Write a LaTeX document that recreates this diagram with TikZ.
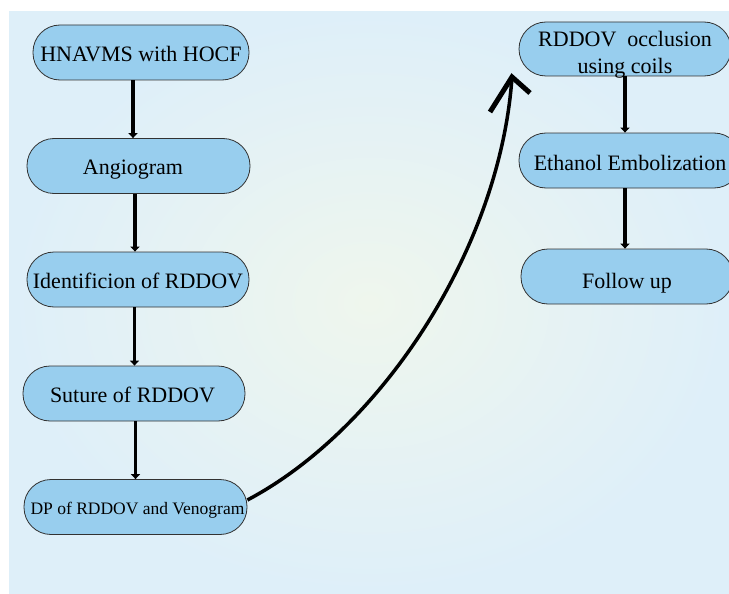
\documentclass[tikz,border=0pt]{standalone}
\usepackage{fontspec}
\setmainfont{Liberation Serif}
\usetikzlibrary{arrows.meta}
\definecolor{boxfill}{RGB}{152,206,238}
\definecolor{boxline}{RGB}{50,50,50}
\definecolor{bgin}{RGB}{239,246,237}
\definecolor{bgout}{RGB}{222,239,249}
\begin{document}
\begin{tikzpicture}[x=1pt,y=-1pt,
  stepbox/.style={draw=boxline, line width=0.8pt, fill=boxfill, rounded corners=27pt,
    minimum height=55pt, inner sep=0pt, text height=18pt, text depth=0pt,
    font=\fontsize{22}{27}\selectfont},
  arr/.style={line width=3.2pt, -{Triangle[width=9pt,length=5pt]}},
  flow/.style={line width=3.5pt},
  chevron/.style={line width=5pt, miter limit=10}]
\useasboundingbox (0,0) rectangle (729,594);
\clip (0,0) rectangle (729,594);
\shade[inner color=bgin, outer color=bgout] (9,12) rectangle (729,594);
% left column
\node[stepbox, minimum width=216pt] (a) at (141,52.5) {HNAVMS with HOCF};
\node[stepbox, minimum width=223pt] (b) at (138.5,166) {\hspace*{-11pt}Angiogram};
\node[stepbox, minimum width=222pt] (c) at (138,279.5) {Identificion of RDDOV};
\node[stepbox, minimum width=222pt] (d) at (134,393.5) {\hspace*{-3pt}Suture of RDDOV};
\node[stepbox, minimum width=223pt, text height=14.2pt, font=\fontsize{17.5}{21}\selectfont] (e) at (135.5,507) {DP of RDDOV and Venogram\hspace*{-4pt}};
% right column
\node[stepbox, minimum width=212pt, minimum height=54pt, text height=38pt, text depth=16pt] (f) at (625,49)
  {\begin{tabular}{@{}c@{}}RDDOV\ \ occlusion\\ using coils\end{tabular}};
\node[stepbox, minimum width=222pt, text height=19pt] (g) at (630,160.5) {Ethanol Embolization};
\node[stepbox, minimum width=212pt, text height=24pt] (h) at (627,276.5) {Follow up};
% vertical arrows
\draw[arr] ([xshift=-8pt]a.south) -- ([xshift=-8pt]a.south |- b.north);
\draw[arr] ([xshift=-3.5pt]b.south) -- ([xshift=-3.5pt]b.south |- c.north);
\draw[arr] ([xshift=-3.5pt]c.south) -- ([xshift=-3.5pt]c.south |- d.north);
\draw[arr] ([xshift=1.5pt]d.south) -- ([xshift=1.5pt]d.south |- e.north);
\draw[arr] (f.south) -- (f.south |- g.north);
\draw[arr] ([xshift=-5pt]g.south) -- ([xshift=-5pt]g.south |- h.north);
% long curved connector
\coordinate (tip) at (512,77);
\draw[flow] ([yshift=7pt]e.east) .. controls (380,430) and (500,250) .. (tip);
\draw[chevron] (490,112) -- (tip) -- (530,93);
\end{tikzpicture}
\end{document}
